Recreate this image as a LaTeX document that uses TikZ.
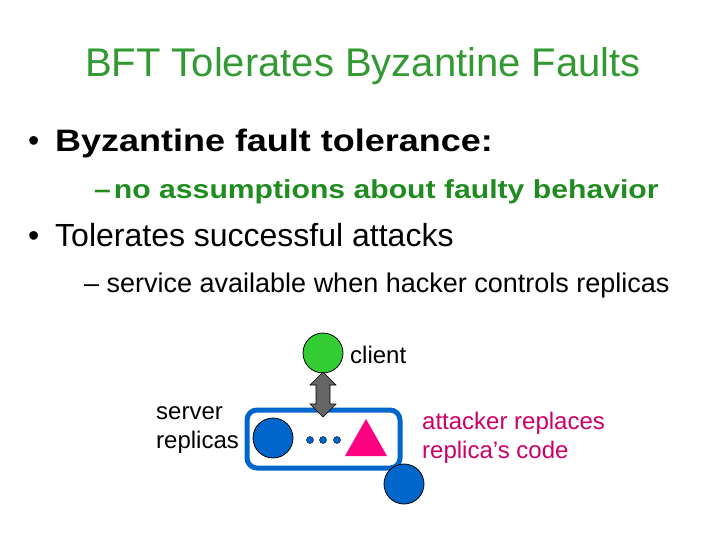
\documentclass[tikz,border=0pt]{standalone}
\usepackage{fontspec}
\setmainfont{Liberation Sans}
\usetikzlibrary{shapes.geometric,arrows.meta}
\definecolor{tgreen}{HTML}{339933}
\definecolor{sgreen}{HTML}{1F8C1F}
\definecolor{cgreen}{HTML}{33CC33}
\definecolor{rblue}{HTML}{0066CC}
\definecolor{tpink}{HTML}{FF0080}
\definecolor{apink}{HTML}{CC0066}
\begin{document}
\begin{tikzpicture}[x=1pt,y=-1pt,
  txt/.style={anchor=base west,inner sep=0pt},
  rep/.style={circle,draw=black,line width=0.8pt,fill=rblue,minimum size=40pt,inner sep=0pt}]
\useasboundingbox (0,0) rectangle (720,540);
\node[anchor=base,inner sep=0pt,text=tgreen,font=\fontsize{40}{44}\selectfont] (title) at (363,77) {BFT Tolerates Byzantine Faults};
\node[txt,font=\fontsize{32}{36}\selectfont] (bl1) at (28,152) {•};
\node[txt,font=\fontsize{31}{36}\selectfont\bfseries\addfontfeatures{FakeStretch=1.16}] (b1) at (55,152) {Byzantine fault tolerance:};
\node[txt,font=\fontsize{26}{30}\selectfont\bfseries\addfontfeatures{FakeStretch=1.16},text=sgreen] (s1) at (94,199) {–\hspace{3pt}no assumptions about faulty behavior};
\node[txt,font=\fontsize{32}{36}\selectfont] (bl2) at (28,246) {•};
\node[txt,font=\fontsize{32}{36}\selectfont] (b2) at (55,246) {Tolerates successful attacks};
\node[txt,font=\fontsize{27}{30}\selectfont] (s2) at (84,292) {– service available when hacker controls replicas};
\node[circle,draw=black,line width=0.8pt,fill=cgreen,minimum size=40pt,inner sep=0pt] (client) at (323,353) {};
\node[txt,font=\fontsize{24}{28}\selectfont] (cl) at (350,363) {client};
\node[draw=rblue,line width=5pt,rounded corners=10pt,minimum width=153pt,minimum height=58pt] (box) at (323.5,439) {};
\draw[draw=black,fill=black!60,line width=0.6pt] (323,372) -- (336,385) -- (330,385) -- (330,404) -- (336,404) -- (323,417) -- (310,404) -- (316,404) -- (316,385) -- (310,385) -- cycle;
\node[rep] (r1) at (273,438) {};
\foreach \i/\xx in {1/310,2/323,3/337} \node[circle,fill=rblue,draw=black,line width=0.4pt,minimum size=7pt,inner sep=0pt] (d\i) at (\xx,440) {};
\fill[tpink] (345,456) -- (366,419) -- (387,456) -- cycle;
\node[rep] (r2) at (404,484) {};
\node[txt,font=\fontsize{24}{29}\selectfont,align=left,anchor=north west] (sr) at (156,406) {server\\replicas};
\node[txt,font=\fontsize{24}{29}\selectfont,align=left,anchor=north west,text=apink] (at) at (422,412) {attacker replaces\\replica’s code};
\end{tikzpicture}
\end{document}
